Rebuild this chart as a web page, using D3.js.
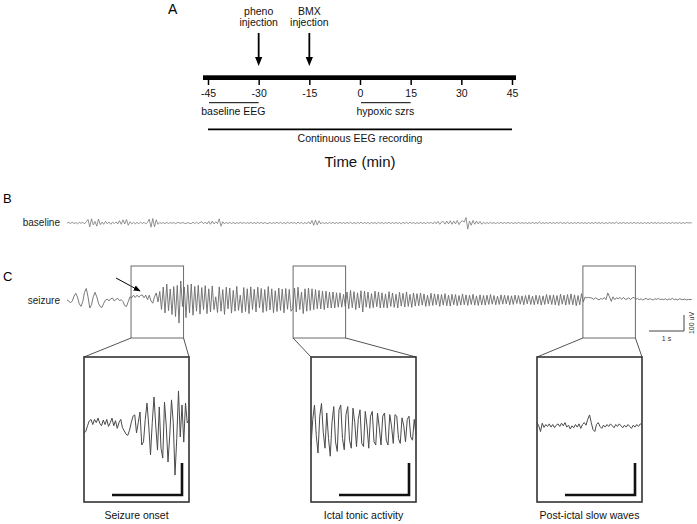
<!DOCTYPE html>
<html>
<head>
<meta charset="utf-8">
<script src="https://cdn.jsdelivr.net/npm/d3@7"></script>
<style>
  body { margin: 0; background: #fff; }
  svg { display: block; font-family: 'Liberation Sans', Arial, sans-serif; }
</style>
</head>
<body>
<svg id="figure" width="697" height="524"></svg>
<script>
// ---- panel A: experiment timeline (min) ----
let timeTicks = [-45, -30, -15, 0, 15, 30, 45]
let injectionTimes = [-30, -15]
let injectionLabels = [['pheno', 'injection'], ['BMX', 'injection']]
let periodRanges = [[-45, -30], [0, 15]]
let periodLabels = ['baseline EEG', 'hypoxic szrs']
let recordingRange = [-45, 45]

// ---- panels B/C: EEG traces in uV, one sample every 0.05 s ----
let sampleStep = 0.05
let baselineTrace = [
    0, 4, -3, 5, -4, 3, -5, 4, -2, 5, -6, 8, 22, -24, 26, -12, 10, -20, 24, -10,
    6, -8, 10, -5, 6, -8, 5, -4, 7, -6, 14, -8, 20, -6, 22, -14, 8, -5, 4, -5,
    4, -5, 6, -4, 5, -6, 4, 24, -26, 28, -24, 20, -8, 4, -3, 3, -4, 4, -3, 3,
    -2, 3, -4, 2, 3, -3, 4, -2, -3, 3, -2, -4, 5, -4, 6, -5, 4, 8, -5, 6,
    -6, 10, -8, 12, -6, 8, -4, 26, -20, 8, -6, 5, -4, 4, -3, 3, -4, 3, -3, 4,
    -3, 4, -4, 3, -3, 4, -3, 3, -4, 5, -3, 4, -4, 3, -2, -3, 4, -4, 3, -3,
    5, -4, 6, -5, 4, -6, 7, -4, 5, -3, 4, -5, 6, -4, 5, -6, 4, -5, 8, -6,
    16, -14, 18, -12, 14, -6, 5, -4, 3, -4, 4, -3, 4, -4, 3, -3, 4, -3, 3, -4,
    4, -3, 5, -4, 3, -4, 4, -3, 5, -4, 3, -3, 4, -5, 4, -3, 3, -4, 5, -3,
    4, -4, 3, -3, 5, -4, 3, -4, 4, -3, 3, -5, 4, -3, 4, -4, 5, -3, 3, -4,
    3, -4, 4, -3, 3, -4, 4, -3, 5, -6, 8, -5, 10, -8, 6, 10, -7, 12, -6, 14,
    -8, 12, -6, 16, -10, 8, 14, 6, 34, -38, 12, -14, 16, -8, 12, -6, 10, -8, 5, -4,
    3, -3, 4, -3, 3, -4, 3, -3, 4, -3, 3, -3, 4, -3, 3, -4, 3, -3, 4, -3,
    3, -3, 3, -4, 3, -3, 4, -3, 3, -3, 6, -4, 3, -3, 3, -3, 4, -3, 3, -3,
    4, -3, 5, -4, 3, -3, 4, -3, 3, -4, 3, -3, 4, -3, 3, -3, 3, -4, 3, -3,
    3, -3, 4, -3, 3, -3, 3, -4, 3, -3, 4, -3, 3, -3, 6, -4, 3, -3, 3, -3,
    3, -3, 3, -3, 4, -3, 3, -3, 3, -4, 3, -3, 3, -3, 4, -3, 3, -3, 3, -3,
    3, -3, 3, -3, 3, -3, 4, -3, 3, -3, 3, -3, 3, -3, 3, 0, 2, 0
]
let seizureTrace = [
    0, -6, -18, -6, 24, 42, 18, -24, -40, -10, 48, 72, 20, -50, -30, 20, 48, 20, -20, -42,
    -46, -20, 0, 6, -6, 8, 12, -6, 4, 10, -4, 2, -10, -36, -40, -10, 20, 14, 30, 16,
    30, 18, 28, 32, 14, 30, 2, 30, -6, -20, 20, 44, -12, 53, -59, 81, -81, 100, -66, 69,
    -91, 84, -103, 91, -144, 119, -41, 81, -110, 95, -80, 100, -95, 85, -70, 92, -88, 78, -60, 90,
    -85, 70, -75, 88, -60, 20, -78, 82, -70, 65, -90, 80, -55, 75, -82, 60, -70, 85, -65, 30,
    -80, 78, -72, 70, -85, 82, -60, 68, -75, 80, -50, 72, -78, 65, -70, 84, -62, 70, -80, 58,
    -72, 75, -65, 68, -80, 72, -58, 66, -70, -55, 75, -75, 80, -60, 50, -85, 70, -70, 75, -65,
    70, -60, 65, -55, 60, -55, 55, -60, 55, -50, 50, -50, 50, -50, 45, -45, 45, -45, 35, -40,
    50, -55, 60, -48, 52, -60, 45, -50, 58, -75, 55, -45, 50, -52, 40, -48, 55, -42, 50, -50,
    45, -48, 38, -50, 52, -40, 44, -46, 36, -50, 48, -38, 42, -44, 50, -40, 35, -46, 44, -38,
    40, -36, 44, -32, 38, -40, 30, -36, 42, -34, 38, -30, 36, -40, 34, -32, 40, -36, 30, -38,
    36, -30, 34, -36, 28, -32, 38, -30, 32, -34, 30, -28, 36, -32, 26, -34, 32, -30, 28, -32,
    30, -28, 34, -26, 28, -30, 24, -28, 32, -26, 30, -24, 28, -30, 26, -28, 30, -22, 28, -26,
    26, -30, 28, -24, 32, -28, 24, -30, 30, -26, 28, -32, 26, -28, 34, -24, 30, -28, 32, -30,
    28, -34, 36, -26, 30, -32, 34, -28, 38, -30, 32, -36, 28, -30, 40, -12, 18, 14, 16, 14,
    12, 4, 14, 6, 0, 10, 4, 16, 2, 44, 20, -8, 20, 2, 14, 8, 16, 4, 16, 4,
    6, 14, 2, 14, 16, 4, 10, 2, 8, 0, 6, 10, 2, 8, 4, 0, 8, 4, 10, 2,
    6, 2, 8, 0, 6, 4, 10, 2, 6, 0, 8, 4, 2, 6, 0, 4, 2, 4
]

// ---- zoomed windows of the seizure trace, insets sampled every 0.025 s ----
let windowStarts = [1.83, 6.46, 14.74]
let windowLength = 1.5
let insetStep = 0.025
let onsetTrace = [
    -12, -8, 10, 25, 30, 14, 30, 20, 34, 18, 10, 28, 14, 30, 8, 20, 34, 10, 26, 2,
    20, 30, 4, -6, -16, -20, -4, 20, 40, 44, -12, 20, 53, -50, -40, 30, 81, 10, -81, 20,
    100, 10, -66, 69, -60, -91, 84, 10, -103, -20, 91, 20, -144, -30, 119, -25, 75, -41, 81, 19,
    28
]
let ictalTrace = [
    -55, 30, 75, -20, -75, 40, 80, -10, -60, 50, -30, -85, 20, 70, -40, -70, 60, 75, -30, -65,
    45, 70, -35, -60, 65, 20, -55, 30, 60, -45, -55, 55, 10, -60, 40, 55, -40, -50, 50, 5,
    -50, 40, 50, -35, -50, 45, 10, -45, 45, 40, -30, -45, 35, 10, -40, 30, 40, -25, -35, 30,
    -20
]
let postictalTrace = [
    20, 10, -8, 18, 5, 14, 8, 16, 6, 14, 4, 12, 16, 8, 18, 10, 20, 6, 12, 0,
    10, 4, 14, 6, 16, 2, 14, 20, 12, 30, 44, 20, -2, -8, 14, 20, 8, 2, 12, 6,
    14, 8, 16, 10, 4, 14, 8, 16, 10, 4, 12, 6, 14, 8, 2, 12, 6, 14, 8, 16,
    14
]
let insetTraces = [onsetTrace, ictalTrace, postictalTrace]
let insetTitles = ['Seizure onset', 'Ictal tonic activity', 'Post-ictal slow waves']

let svg = d3.select('#figure')

// arrow head marker
svg.append('defs').append('marker')
    .attr('id', 'head').attr('viewBox', '0 0 10 10')
    .attr('refX', 9).attr('refY', 5)
    .attr('markerWidth', 7).attr('markerHeight', 7)
    .attr('orient', 'auto')
    .append('path').attr('d', 'M0,1 L10,5 L0,9 Z').attr('fill', '#000')

// ---------------- panel A ----------------
let tScale = d3.scaleLinear().domain([-45, 45]).range([208, 512])

svg.append('text').attr('x', 168).attr('y', 13.5).attr('font-size', 14).text('A')

// thick time bar
svg.append('rect')
    .attr('x', tScale(-45) - 5).attr('y', 75.3)
    .attr('width', tScale(45) - tScale(-45) + 9).attr('height', 4.7)
    .attr('fill', '#000')

let axis = svg.append('g').attr('transform', 'translate(0,79)')
    .call(d3.axisBottom(tScale).tickValues(timeTicks).tickSize(6).tickPadding(4.5).tickFormat(d => String(d)))
axis.select('.domain').remove()
axis.selectAll('.tick line').attr('stroke', '#000').attr('stroke-width', 1.5)
axis.selectAll('.tick text').attr('font-size', 10.5).attr('fill', '#111')
    .attr('font-family', "'Liberation Sans', Arial, sans-serif")

// injection arrows
injectionTimes.forEach((t, i) => {
    let x = tScale(t)
    svg.append('line').attr('x1', x).attr('x2', x).attr('y1', 33).attr('y2', 58)
        .attr('stroke', '#000').attr('stroke-width', 1.8)
    svg.append('path')
        .attr('d', 'M' + (x - 3.6) + ',57 L' + (x + 3.6) + ',57 L' + x + ',66 Z')
        .attr('fill', '#000')
    injectionLabels[i].forEach((s, k) => {
        svg.append('text').attr('x', x).attr('y', 14.5 + k * 11)
            .attr('text-anchor', 'middle').attr('font-size', 10.5).attr('fill', '#111')
            .text(s)
    })
})

// periods
periodRanges.forEach((r, i) => {
    svg.append('line').attr('x1', tScale(r[0]) + 1).attr('x2', tScale(r[1]))
        .attr('y1', 102.7).attr('y2', 102.7).attr('stroke', '#000').attr('stroke-width', 1)
    svg.append('text').attr('x', (tScale(r[0]) + tScale(r[1])) / 2).attr('y', 115)
        .attr('text-anchor', 'middle').attr('font-size', 10.5).attr('fill', '#111')
        .text(periodLabels[i])
})

// continuous recording
svg.append('line').attr('x1', tScale(recordingRange[0])).attr('x2', tScale(recordingRange[1]))
    .attr('y1', 129.4).attr('y2', 129.4).attr('stroke', '#000').attr('stroke-width', 1.8)
svg.append('text').attr('x', tScale(0)).attr('y', 142)
    .attr('text-anchor', 'middle').attr('font-size', 10.5).attr('fill', '#111')
    .text('Continuous EEG recording')
svg.append('text').attr('x', tScale(0)).attr('y', 167)
    .attr('text-anchor', 'middle').attr('font-size', 15).attr('fill', '#111')
    .text('Time (min)')

// ---------------- panels B and C ----------------
let traceEnd = (seizureTrace.length - 1) * sampleStep
let xScale = d3.scaleLinear().domain([0, traceEnd]).range([67, 67 + traceEnd * 35])
let yBase = d3.scaleLinear().domain([-100, 100]).range([239, 207])
let ySeiz = d3.scaleLinear().domain([-100, 100]).range([316, 284])

let baseLine = d3.line().x((d, i) => xScale(i * sampleStep)).y(d => yBase(d))
let seizLine = d3.line().x((d, i) => xScale(i * sampleStep)).y(d => ySeiz(d))

svg.append('text').attr('x', 3).attr('y', 203).attr('font-size', 13).text('B')
svg.append('text').attr('x', 60).attr('y', 226).attr('text-anchor', 'end')
    .attr('font-size', 10).attr('fill', '#222').text('baseline')
svg.append('path').datum(baselineTrace).attr('d', baseLine)
    .attr('fill', 'none').attr('stroke', '#777').attr('stroke-width', 0.8)

svg.append('text').attr('x', 3).attr('y', 280.5).attr('font-size', 13).text('C')
svg.append('text').attr('x', 60).attr('y', 304).attr('text-anchor', 'end')
    .attr('font-size', 10).attr('fill', '#222').text('seizure')
svg.append('path').datum(seizureTrace).attr('d', seizLine)
    .attr('fill', 'none').attr('stroke', '#6a6a6a').attr('stroke-width', 0.9)

// onset arrow
svg.append('line').attr('x1', 116).attr('y1', 278).attr('x2', 140).attr('y2', 291)
    .attr('stroke', '#000').attr('stroke-width', 1).attr('marker-end', 'url(#head)')

// main scale bar: 1 s, 100 uV
let sbX = 649
let sbY = 331
let oneSec = xScale(1) - xScale(0)
let hundredUV = ySeiz(0) - ySeiz(100)
svg.append('path')
    .attr('d', 'M' + sbX + ',' + sbY + ' H' + (sbX + oneSec) + ' V' + (sbY - hundredUV))
    .attr('fill', 'none').attr('stroke', '#444').attr('stroke-width', 1)
svg.append('text').attr('x', sbX + oneSec / 2).attr('y', 340.5).attr('text-anchor', 'middle')
    .attr('font-size', 7).attr('fill', '#333').text('1 s')
svg.append('text').attr('transform', 'translate(694,323) rotate(-90)')
    .attr('text-anchor', 'middle').attr('font-size', 7).attr('fill', '#333').text('100 uV')

// zoom windows and insets
let insetLefts = [84, 311, 537]
let insetTop = 357
let insetH = 145
windowStarts.forEach((s, k) => {
    let bx0 = xScale(s)
    let bx1 = xScale(s + windowLength)
    let ix0 = insetLefts[k]
    let ix1 = ix0 + windowLength * 70
    svg.append('rect').attr('x', bx0).attr('y', 266).attr('width', bx1 - bx0).attr('height', 72)
        .attr('fill', 'none').attr('stroke', '#6a6a6a').attr('stroke-width', 1)
    svg.append('line').attr('x1', bx0).attr('y1', 338).attr('x2', ix0).attr('y2', insetTop)
        .attr('stroke', '#555').attr('stroke-width', 1)
    svg.append('line').attr('x1', bx1).attr('y1', 338).attr('x2', ix1).attr('y2', insetTop)
        .attr('stroke', '#555').attr('stroke-width', 1)
    svg.append('rect').attr('x', ix0).attr('y', insetTop).attr('width', ix1 - ix0).attr('height', insetH)
        .attr('fill', '#fff').attr('stroke', '#333').attr('stroke-width', 1.6)

    let ix = d3.scaleLinear().domain([0, windowLength]).range([ix0, ix1])
    let iy = d3.scaleLinear().domain([-100, 100]).range([461, 397])
    let insetLine = d3.line().x((d, i) => ix(i * insetStep)).y(d => iy(d))
    svg.append('path').datum(insetTraces[k]).attr('d', insetLine)
        .attr('fill', 'none').attr('stroke', '#4a4a4a').attr('stroke-width', 1)

    // inset scale bar (1 s, 100 uV at 2x)
    let sx1 = ix1 - 7
    svg.append('path')
        .attr('d', 'M' + (sx1 - (ix(1) - ix(0))) + ',495 H' + sx1 + ' V' + (495 - (iy(0) - iy(100))))
        .attr('fill', 'none').attr('stroke', '#111').attr('stroke-width', 2.6)

    svg.append('text').attr('x', (ix0 + ix1) / 2).attr('y', 519)
        .attr('text-anchor', 'middle').attr('font-size', 10.5).attr('fill', '#111')
        .text(insetTitles[k])
})
</script>
</body>
</html>
